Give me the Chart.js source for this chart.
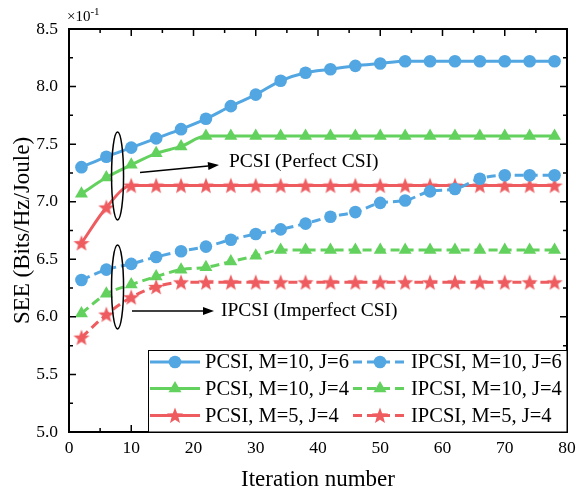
<!DOCTYPE html>
<html><head><meta charset="utf-8">
<script src="https://cdn.jsdelivr.net/npm/chart.js@4/dist/chart.umd.min.js"></script>
<style>html,body{margin:0;padding:0;background:#fff}#wrap{width:584px;height:491px;position:relative}</style>
</head><body><div id="wrap"><canvas id="c" width="584" height="491"></canvas></div>
<script>
const iterations = [2,6,10,14,18,22,26,30,34,38,42,46,50,54,58,62,66,70,74,78];
const pcsiM10J6  = [7.30,7.39,7.47,7.55,7.63,7.72,7.83,7.93,8.05,8.12,8.15,8.18,8.20,8.22,8.22,8.22,8.22,8.22,8.22,8.22];
const pcsiM10J4  = [7.07,7.21,7.32,7.42,7.48,7.57,7.57,7.57,7.57,7.57,7.57,7.57,7.57,7.57,7.57,7.57,7.57,7.57,7.57,7.57];
const pcsiM5J4   = [6.64,6.95,7.14,7.14,7.14,7.14,7.14,7.14,7.14,7.14,7.14,7.14,7.14,7.14,7.14,7.14,7.14,7.14,7.14,7.14];
const ipcsiM10J6 = [6.32,6.41,6.46,6.52,6.57,6.61,6.67,6.72,6.76,6.81,6.87,6.91,6.99,7.01,7.09,7.11,7.20,7.23,7.23,7.23];
const ipcsiM10J4 = [6.03,6.20,6.28,6.35,6.41,6.43,6.48,6.53,6.58,6.58,6.58,6.58,6.58,6.58,6.58,6.58,6.58,6.58,6.58,6.58];
const ipcsiM5J4  = [5.82,6.02,6.17,6.26,6.30,6.30,6.30,6.30,6.30,6.30,6.30,6.30,6.30,6.30,6.30,6.30,6.30,6.30,6.30,6.30];
const seriesLabels = ['PCSI, M=10, J=6','PCSI, M=10, J=4','PCSI, M=5, J=4','IPCSI, M=10, J=6','IPCSI, M=10, J=4','IPCSI, M=5, J=4'];
const xTickValues = [0,10,20,30,40,50,60,70,80];
const yTickValues = [5.0,5.5,6.0,6.5,7.0,7.5,8.0,8.5];

const BLUE='#52a6e1', GREEN='#63d15d', RED='#ee5c60';
const SERIF='"Liberation Serif","Times New Roman",serif';

function starPath(ctx,cx,cy,R,r){
  ctx.beginPath();
  for(let i=0;i<10;i++){
    const rad=(i%2===0)?R:r;
    const a=-Math.PI/2+i*Math.PI/5;
    const x=cx+rad*Math.cos(a), y=cy+rad*Math.sin(a);
    if(i===0)ctx.moveTo(x,y);else ctx.lineTo(x,y);
  }
  ctx.closePath();
}
function makeStar(color){
  const c=document.createElement('canvas');c.width=18;c.height=18;
  const g=c.getContext('2d');g.fillStyle=color;starPath(g,9,9.6,8.5,3.6);g.fill();
  return c;
}
const starImg=makeStar(RED);

function pts(arr){return iterations.map((x,i)=>({x:x,y:arr[i]}));}
function ds(label,arr,color,style,dashed){
  const o={label:label,data:pts(arr),borderColor:color,backgroundColor:color,borderWidth:3,
    pointStyle:style,pointRadius:style==='triangle'?7.5:6.3,pointBorderWidth:0,pointBackgroundColor:color,
    pointBorderColor:color,cubicInterpolationMode:'monotone',fill:false,borderDash:dashed?[9,5]:[]};
  return o;
}
const datasets=[
  ds(seriesLabels[5],ipcsiM5J4,RED,starImg,true),
  ds(seriesLabels[4],ipcsiM10J4,GREEN,'triangle',true),
  ds(seriesLabels[3],ipcsiM10J6,BLUE,'circle',true),
  ds(seriesLabels[2],pcsiM5J4,RED,starImg,false),
  ds(seriesLabels[1],pcsiM10J4,GREEN,'triangle',false),
  ds(seriesLabels[0],pcsiM10J6,BLUE,'circle',false)
];

function arrow(ctx,x1,y1,x2,y2){
  ctx.save();ctx.strokeStyle='#000';ctx.fillStyle='#000';ctx.lineWidth=1.5;
  const a=Math.atan2(y2-y1,x2-x1),L=11,W=4;
  const bx=x2-L*Math.cos(a),by=y2-L*Math.sin(a);
  ctx.beginPath();ctx.moveTo(x1,y1);ctx.lineTo(bx,by);ctx.stroke();
  ctx.beginPath();ctx.moveTo(x2,y2);
  ctx.lineTo(bx+W*Math.sin(a),by-W*Math.cos(a));
  ctx.lineTo(bx-W*Math.sin(a),by+W*Math.cos(a));ctx.closePath();ctx.fill();
  ctx.restore();
}

const deco={
  id:'deco',
  afterDraw(chart){
    const ctx=chart.ctx,ca=chart.chartArea,xs=chart.scales.x,ys=chart.scales.y;
    ctx.save();
    ctx.strokeStyle='#000';ctx.lineWidth=2;
    ctx.strokeRect(ca.left,ca.top,ca.right-ca.left,ca.bottom-ca.top);
    ctx.lineWidth=1.5;ctx.beginPath();
    for(let v=0;v<=80;v+=5){
      const x=xs.getPixelForValue(v),L=(v%10===0)?7:4;
      ctx.moveTo(x,ca.bottom);ctx.lineTo(x,ca.bottom-L);
      ctx.moveTo(x,ca.top);ctx.lineTo(x,ca.top+L);
    }
    for(let v=5;v<=8.5001;v+=0.25){
      const y=ys.getPixelForValue(v),L=(Math.abs(v*2-Math.round(v*2))<1e-6)?7:4;
      ctx.moveTo(ca.left,y);ctx.lineTo(ca.left+L,y);
      ctx.moveTo(ca.right,y);ctx.lineTo(ca.right-L,y);
    }
    ctx.stroke();
    ctx.fillStyle='#000';ctx.textBaseline='alphabetic';ctx.textAlign='left';
    ctx.font='15px '+SERIF;ctx.fillText('\u00d710',67,21);
    const w=ctx.measureText('\u00d710').width;
    ctx.font='11px '+SERIF;ctx.fillText('-1',67+w,15);
    ctx.lineWidth=1.5;
    const ex=xs.getPixelForValue(7.8);
    ctx.beginPath();ctx.ellipse(ex,176,6,44,0,0,Math.PI*2);ctx.stroke();
    ctx.beginPath();ctx.ellipse(ex,287,6,42,0,0,Math.PI*2);ctx.stroke();
    arrow(ctx,140,172.5,219,165);
    arrow(ctx,132,311,214,311);
    ctx.font='19.5px '+SERIF;ctx.textBaseline='middle';ctx.textAlign='left';
    ctx.fillText('PCSI (Perfect CSI)',229,162);
    ctx.fillText('IPCSI (Imperfect CSI)',221,311);
    const lx=148.5,ly=350.5,lw=ca.right-lx,lh=ca.bottom-ly;
    ctx.fillStyle='#fff';ctx.fillRect(lx,ly,lw,lh);
    ctx.strokeStyle='#000';ctx.lineWidth=1;ctx.strokeRect(lx,ly,lw,lh);
    const rows=[362,388.5,415.5];
    const cols=[{x0:150,x1:200,tx:205},{x0:353,x1:407,tx:411}];
    const order=[[5,2],[4,1],[3,0]];
    ctx.font='20.5px '+SERIF;
    for(let r=0;r<3;r++){
      for(let c=0;c<2;c++){
        const d=datasets[order[r][c]];
        const col=cols[c],y=rows[r];
        ctx.save();
        ctx.strokeStyle=d.borderColor;ctx.lineWidth=3;ctx.setLineDash(d.borderDash);
        ctx.beginPath();ctx.moveTo(col.x0,y);ctx.lineTo(col.x1,y);ctx.stroke();
        ctx.setLineDash([]);
        const mx=(col.x0+col.x1)/2;
        ctx.fillStyle=d.borderColor;
        if(d.pointStyle==='circle'){ctx.beginPath();ctx.arc(mx,y,6.3,0,Math.PI*2);ctx.fill();}
        else if(d.pointStyle==='triangle'){
          const R=7.5;ctx.beginPath();
          ctx.moveTo(mx,y-R);ctx.lineTo(mx+R*Math.sin(Math.PI/3),y+R*0.5);ctx.lineTo(mx-R*Math.sin(Math.PI/3),y+R*0.5);ctx.closePath();ctx.fill();
        } else {starPath(ctx,mx,y+0.6,8.5,3.6);ctx.fill();}
        ctx.restore();
        ctx.fillStyle='#000';ctx.textBaseline='middle';ctx.textAlign='left';
        ctx.fillText(d.label,col.tx,y+1);
      }
    }
    ctx.restore();
  }
};

new Chart(document.getElementById('c'),{
  type:'line',
  data:{datasets:datasets},
  plugins:[deco],
  options:{
    responsive:false,animation:false,
    layout:{padding:{top:29,right:17,left:0,bottom:0}},
    plugins:{legend:{display:false},tooltip:{enabled:false}},
    scales:{
      x:{type:'linear',min:0,max:80,
        afterFit(s){s.height=59;},
        afterBuildTicks(s){s.ticks=xTickValues.map(v=>({value:v}));},
        ticks:{font:{family:SERIF,size:17.5},color:'#000',padding:6,maxRotation:0,autoSkip:false,callback:v=>String(v)},
        grid:{display:false,drawTicks:false},
        border:{display:false},
        title:{display:true,text:'Iteration number',font:{family:SERIF,size:23,lineHeight:1},color:'#000',padding:{top:0,bottom:0}}
      },
      y:{type:'linear',min:5,max:8.5,
        afterFit(s){s.width=69;},
        afterBuildTicks(s){s.ticks=yTickValues.map(v=>({value:v}));},
        ticks:{font:{family:SERIF,size:17.5},color:'#000',padding:11,autoSkip:false,callback:v=>Number(v).toFixed(1)},
        grid:{display:false,drawTicks:false},
        border:{display:false},
        title:{display:true,text:'SEE (Bits/Hz/Joule)',font:{family:SERIF,size:23,lineHeight:1.2},color:'#000',padding:{top:9,bottom:0}}
      }
    }
  }
});
</script>
</body></html>
